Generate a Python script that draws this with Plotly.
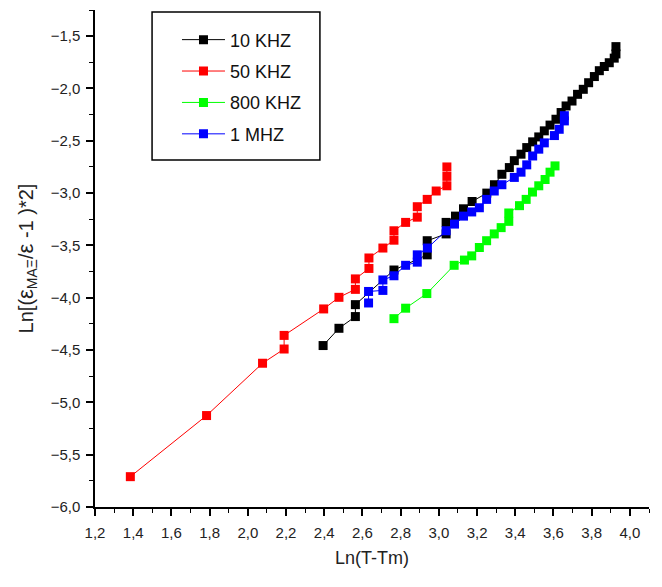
import plotly.graph_objects as go

# ---- data ----
x_10k = [2.394, 2.477, 2.563, 2.563, 2.765, 2.939, 2.939, 3.038, 3.038, 3.087, 3.129, 3.174,
         3.251, 3.291, 3.330, 3.369, 3.395, 3.430, 3.460, 3.491, 3.523, 3.552, 3.582, 3.613,
         3.640, 3.666, 3.697, 3.726, 3.756, 3.784, 3.814, 3.840, 3.866, 3.892, 3.918, 3.927, 3.927]
y_10k = [-4.457, -4.292, -4.180, -4.066, -3.735, -3.590, -3.455, -3.390, -3.280, -3.220, -3.150, -3.080,
         -3.000, -2.920, -2.820, -2.756, -2.690, -2.628, -2.565, -2.510, -2.463, -2.405, -2.350, -2.294,
         -2.230, -2.167, -2.120, -2.056, -2.008, -1.945, -1.886, -1.830, -1.790, -1.754, -1.710, -1.670, -1.600]

x_50k = [1.385, 1.784, 2.077, 2.190, 2.190, 2.397, 2.477, 2.563, 2.563, 2.634, 2.634, 2.707,
         2.765, 2.765, 2.826, 2.887, 2.887, 2.939, 2.986, 3.042, 3.042, 3.042]
y_50k = [-5.710, -5.126, -4.626, -4.490, -4.360, -4.107, -3.996, -3.920, -3.820, -3.720, -3.620, -3.525,
         -3.450, -3.360, -3.280, -3.230, -3.130, -3.060, -2.980, -2.930, -2.840, -2.750]

x_800k = [2.765, 2.826, 2.937, 3.080, 3.134, 3.172, 3.212, 3.250, 3.290, 3.326, 3.366, 3.366,
          3.422, 3.457, 3.490, 3.523, 3.556, 3.582, 3.608]
y_800k = [-4.200, -4.100, -3.960, -3.690, -3.640, -3.600, -3.520, -3.455, -3.390, -3.330, -3.270, -3.190,
          -3.120, -3.060, -2.990, -2.930, -2.870, -2.800, -2.740]

x_1m = [2.632, 2.632, 2.707, 2.707, 2.765, 2.826, 2.887, 2.887, 2.940, 3.038, 3.082, 3.129,
        3.172, 3.212, 3.250, 3.290, 3.330, 3.395, 3.430, 3.460, 3.491, 3.523, 3.552, 3.605,
        3.630, 3.657, 3.657]
y_1m = [-4.050, -3.940, -3.930, -3.830, -3.790, -3.690, -3.660, -3.590, -3.525, -3.360, -3.296, -3.220,
        -3.180, -3.140, -3.060, -2.980, -2.920, -2.850, -2.800, -2.730, -2.645, -2.580, -2.520, -2.450,
        -2.390, -2.310, -2.260]

series_names = ["10 KHZ", "50 KHZ", "800 KHZ", "1 MHZ"]
series_colors = ["#000000", "#ff0000", "#00ff00", "#0000ff"]
series_x = [x_10k, x_50k, x_800k, x_1m]
series_y = [y_10k, y_50k, y_800k, y_1m]

x_range = [1.2, 4.1]
y_range = [-6.0, -1.25]

FONT = "Liberation Sans, Arial"

fig = go.Figure()
for i, (name, col, xs, ys) in enumerate(zip(series_names, series_colors, series_x, series_y)):
    fig.add_trace(go.Scatter(
        x=xs, y=ys, name=name, mode="lines+markers",
        line=dict(color=col, width=1),
        marker=dict(symbol="square", size=9, color=col, line=dict(width=0)),
        legendgroup=f"g{i}",
    ))

axis_common = dict(
    showline=True, linecolor="black", linewidth=1.5, mirror=False,
    showgrid=False, zeroline=False, ticks="outside", ticklen=7, tickwidth=1.5,
    tickcolor="black", tickformat=".1f",
    tickfont=dict(family=FONT, size=15, color="#222"),
)

fig.update_xaxes(range=x_range, dtick=0.2, tick0=1.2, ticklabelstandoff=4,
                 minor=dict(dtick=0.1, ticks="outside", ticklen=4, tickcolor="black", tickwidth=1.2),
                 title=dict(text="Ln(T-Tm)", font=dict(family=FONT, size=18, color="#222"),
                            standoff=12),
                 **axis_common)
fig.update_yaxes(range=y_range, dtick=0.5, tick0=-6.0, ticklabelstandoff=3,
                 minor=dict(dtick=0.25, ticks="outside", ticklen=4, tickcolor="black", tickwidth=1.2),
                 title=dict(text="Ln[(<span style='font-size:22px'>ε</span><sub>MAΞ</sub>/<span style='font-size:22px'>ε</span> -1 )*2]",
                            font=dict(family=FONT, size=20, color="#222"),
                            standoff=12),
                 **axis_common)

# legend frame
fig.add_shape(type="rect", xref="paper", yref="paper",
              x0=0.103, x1=0.406, y0=0.698, y1=0.996,
              line=dict(color="black", width=1.5), fillcolor="rgba(0,0,0,0)")

fig.update_layout(
    width=662, height=587,
    margin=dict(l=95, r=13, t=10, b=80),
    plot_bgcolor="white", paper_bgcolor="white",
    separators=", ",
    showlegend=True,
    legend=dict(x=0.148, y=0.977, xanchor="left", yanchor="top",
                bgcolor="rgba(0,0,0,0)", borderwidth=0,
                font=dict(family=FONT, size=18, color="#111"),
                traceorder="grouped", tracegroupgap=5, itemwidth=43),
)

fig.write_html("out.html")
